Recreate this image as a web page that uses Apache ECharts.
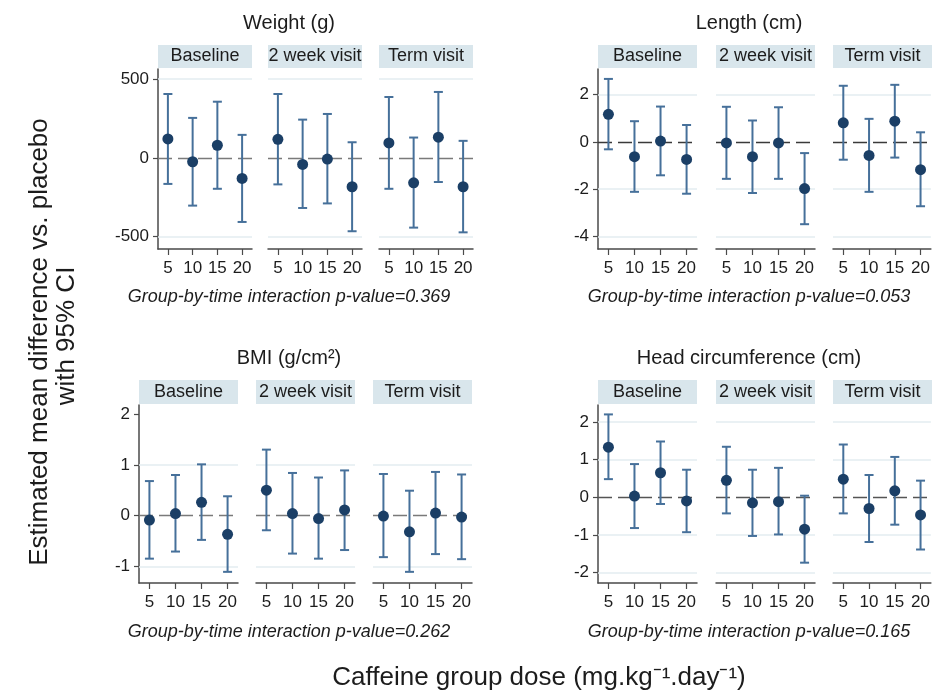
<!DOCTYPE html>
<html lang="en">
    <head>
        <meta charset="UTF-8" />
        <title>Caffeine dose vs placebo</title>
        <script src="https://cdn.jsdelivr.net/npm/echarts@6/dist/echarts.min.js"></script>
        <style>
            body {
                margin: 0;
                padding: 0;
                background: #fff;
            }
            #chart {
                width: 933px;
                height: 698px;
            }
        </style>
    </head>
    <body>
        <div id="chart"></div>
        <script>
            // data
            const doses = [5, 10, 15, 20];
            const visits = ['Baseline', '2 week visit', 'Term visit'];
            const measureTitles = ['Weight (g)', 'Length (cm)', 'BMI (g/cm\u00B2)', 'Head circumference (cm)'];
            const pValues = ['0.369', '0.053', '0.262', '0.165'];

            // rows = visit, columns = dose
            const weightEst = [[120, -25, 80, -131], [118, -42, -8, -184], [95, -159, 131, -184]];
            const weightLo = [[-166, -304, -197, -408], [-169, -319, -290, -467], [-197, -444, -154, -474]];
            const weightHi = [[406, 254, 357, 146], [406, 243, 279, 99], [387, 129, 419, 108]];

            const lengthEst = [[1.17, -0.62, 0.04, -0.74], [-0.04, -0.62, -0.04, -1.97], [0.81, -0.57, 0.88, -1.17]];
            const lengthLo = [[-0.31, -2.11, -1.41, -2.19], [-1.56, -2.16, -1.56, -3.48], [-0.75, -2.11, -0.66, -2.72]];
            const lengthHi = [[2.67, 0.88, 1.5, 0.72], [1.49, 0.91, 1.47, -0.47], [2.38, 0.98, 2.42, 0.41]];

            const bmiEst = [[-0.09, 0.04, 0.26, -0.37], [0.5, 0.04, -0.06, 0.11], [-0.01, -0.32, 0.05, -0.03]];
            const bmiLo = [[-0.85, -0.71, -0.48, -1.11], [-0.29, -0.75, -0.85, -0.68], [-0.82, -1.11, -0.76, -0.86]];
            const bmiHi = [[0.68, 0.8, 1.01, 0.38], [1.3, 0.84, 0.75, 0.89], [0.82, 0.49, 0.86, 0.81]];

            const headEst = [[1.33, 0.03, 0.65, -0.1], [0.45, -0.15, -0.12, -0.85], [0.48, -0.3, 0.17, -0.47]];
            const headLo = [[0.48, -0.82, -0.18, -0.93], [-0.43, -1.03, -0.99, -1.74], [-0.43, -1.19, -0.73, -1.39]];
            const headHi = [[2.2, 0.88, 1.48, 0.73], [1.34, 0.73, 0.78, 0.04], [1.4, 0.59, 1.07, 0.44]];

            // y tick labels and the light grid lines drawn at them
            const weightTicks = [-500, 0, 500];
            const lengthTicks = [-4, -2, 0, 2];
            const bmiTicks = [-1, 0, 1, 2];
            const headTicks = [-2, -1, 0, 1, 2];
            const weightGrid = [-500, 500];
            const lengthGrid = [-4, -2, 2];
            const bmiGrid = [-1, 1];
            const headGrid = [-2, -1, 1, 2];

            const FONT = "'Liberation Sans', Arial, sans-serif";
            const TXT = '#1c1c1c';
            const BAR = '#46709a';
            const DOT = '#1b3f66';
            const STRIP = '#d9e6ec';
            const AXIS = '#4a4a4a';

            // one entry per measure, panel layout in px
            const panels = [
                { est: weightEst, lo: weightLo, hi: weightHi, ticks: weightTicks, grid: weightGrid, yMin: -580, yMax: 565, zero: '#7a7a7a',
                  top: 69, height: 180, lefts: [158, 268, 379], width: 94, cx: 289, titleY: 23, stripTop: 45, pY: 297 },
                { est: lengthEst, lo: lengthLo, hi: lengthHi, ticks: lengthTicks, grid: lengthGrid, yMin: -4.53, yMax: 3.09, zero: '#3a3a3a',
                  top: 69, height: 180, lefts: [598, 716, 833], width: 99, cx: 749, titleY: 23, stripTop: 45, pY: 297 },
                { est: bmiEst, lo: bmiLo, hi: bmiHi, ticks: bmiTicks, grid: bmiGrid, yMin: -1.33, yMax: 2.18, zero: '#7a7a7a',
                  top: 405, height: 178, lefts: [139, 256, 373], width: 99, cx: 289, titleY: 358, stripTop: 380, pY: 632 },
                { est: headEst, lo: headLo, hi: headHi, ticks: headTicks, grid: headGrid, yMin: -2.28, yMax: 2.45, zero: '#555555',
                  top: 405, height: 178, lefts: [598, 716, 833], width: 99, cx: 749, titleY: 358, stripTop: 380, pY: 632 }
            ];

            function errorBar(params, api) {
                let x = api.value(0);
                let top = api.coord([x, api.value(2)]);
                let bot = api.coord([x, api.value(1)]);
                let w = 4.5;
                let style = { stroke: BAR, lineWidth: 2 };
                return {
                    type: 'group',
                    children: [
                        { type: 'line', shape: { x1: top[0], y1: top[1], x2: bot[0], y2: bot[1] }, style: style },
                        { type: 'line', shape: { x1: top[0] - w, y1: top[1], x2: top[0] + w, y2: top[1] }, style: style },
                        { type: 'line', shape: { x1: bot[0] - w, y1: bot[1], x2: bot[0] + w, y2: bot[1] }, style: style }
                    ]
                };
            }

            let grids = [];
            let xAxes = [];
            let yAxes = [];
            let series = [];
            let graphics = [];

            panels.forEach((p, m) => {
                graphics.push({
                    type: 'text', x: p.cx, y: p.titleY,
                    style: { text: measureTitles[m], font: '20px ' + FONT, fill: TXT, textAlign: 'center', textVerticalAlign: 'middle' }
                });
                graphics.push({
                    type: 'text', x: p.cx, y: p.pY,
                    style: { text: 'Group-by-time interaction p-value=' + pValues[m], font: 'italic 18px ' + FONT, fill: TXT,
                             textAlign: 'center', textVerticalAlign: 'middle' }
                });
                visits.forEach((visit, v) => {
                    let gi = grids.length;
                    grids.push({ left: p.lefts[v], top: p.top, width: p.width, height: p.height });
                    graphics.push({
                        type: 'rect', shape: { x: p.lefts[v], y: p.stripTop, width: p.width, height: p.top - p.stripTop - 1 },
                        style: { fill: STRIP }
                    });
                    graphics.push({
                        type: 'text', x: p.lefts[v] + p.width / 2, y: (p.stripTop + p.top - 1) / 2,
                        style: { text: visit, font: '18px ' + FONT, fill: TXT, textAlign: 'center', textVerticalAlign: 'middle' }
                    });
                    xAxes.push({
                        gridIndex: gi, type: 'value', min: 3, max: 22,
                        axisLine: { show: true, onZero: false, lineStyle: { color: AXIS, width: 1.5 } },
                        axisTick: { show: true, customValues: doses, length: 6, lineStyle: { color: AXIS, width: 1.2 } },
                        axisLabel: { customValues: doses, fontSize: 17, fontFamily: FONT, color: TXT, margin: 11 },
                        splitLine: { show: false }
                    });
                    yAxes.push({
                        gridIndex: gi, type: 'value', min: p.yMin, max: p.yMax,
                        axisLine: { show: v === 0, onZero: false, lineStyle: { color: AXIS, width: 1.5 } },
                        axisTick: { show: v === 0, customValues: p.ticks, length: 5, lineStyle: { color: AXIS, width: 1.2 } },
                        axisLabel: { show: v === 0, customValues: p.ticks, fontSize: 17, fontFamily: FONT, color: TXT, margin: 9 },
                        splitLine: { show: false }
                    });
                    let lines = p.grid.map((g) => ({ yAxis: g, lineStyle: { color: '#e3edf0', type: 'solid', width: 1.5 } }));
                    lines.push({ yAxis: 0, lineStyle: { color: p.zero, type: [14, 6], width: 1.3 } });
                    series.push({
                        type: 'custom', xAxisIndex: gi, yAxisIndex: gi, z: 3,
                        renderItem: errorBar,
                        data: doses.map((d, k) => [d, p.lo[v][k], p.hi[v][k]]),
                        markLine: { silent: true, symbol: ['none', 'none'], label: { show: false }, animation: false, z: 1, data: lines }
                    });
                    series.push({
                        type: 'scatter', xAxisIndex: gi, yAxisIndex: gi, z: 4,
                        symbolSize: 11, itemStyle: { color: DOT, opacity: 1 },
                        data: doses.map((d, k) => [d, p.est[v][k]])
                    });
                });
            });

            // shared axis titles
            graphics.push({
                type: 'text', x: 40, y: 342, rotation: Math.PI / 2,
                style: { text: 'Estimated mean difference vs. placebo', font: '26px ' + FONT, fill: TXT, textAlign: 'center', textVerticalAlign: 'middle' }
            });
            graphics.push({
                type: 'text', x: 67, y: 336, rotation: Math.PI / 2,
                style: { text: 'with 95% CI', font: '26px ' + FONT, fill: TXT, textAlign: 'center', textVerticalAlign: 'middle' }
            });
            graphics.push({
                type: 'text', x: 539, y: 678,
                style: { text: 'Caffeine group dose (mg.kg\u207B\u00B9.day\u207B\u00B9)', font: '26px ' + FONT, fill: TXT,
                         textAlign: 'center', textVerticalAlign: 'middle' }
            });

            let myChart = echarts.init(document.getElementById('chart'), null, { renderer: 'canvas' });
            myChart.setOption({
                animation: false,
                backgroundColor: '#fff',
                grid: grids,
                xAxis: xAxes,
                yAxis: yAxes,
                series: series,
                graphic: graphics
            });
        </script>
    </body>
</html>
